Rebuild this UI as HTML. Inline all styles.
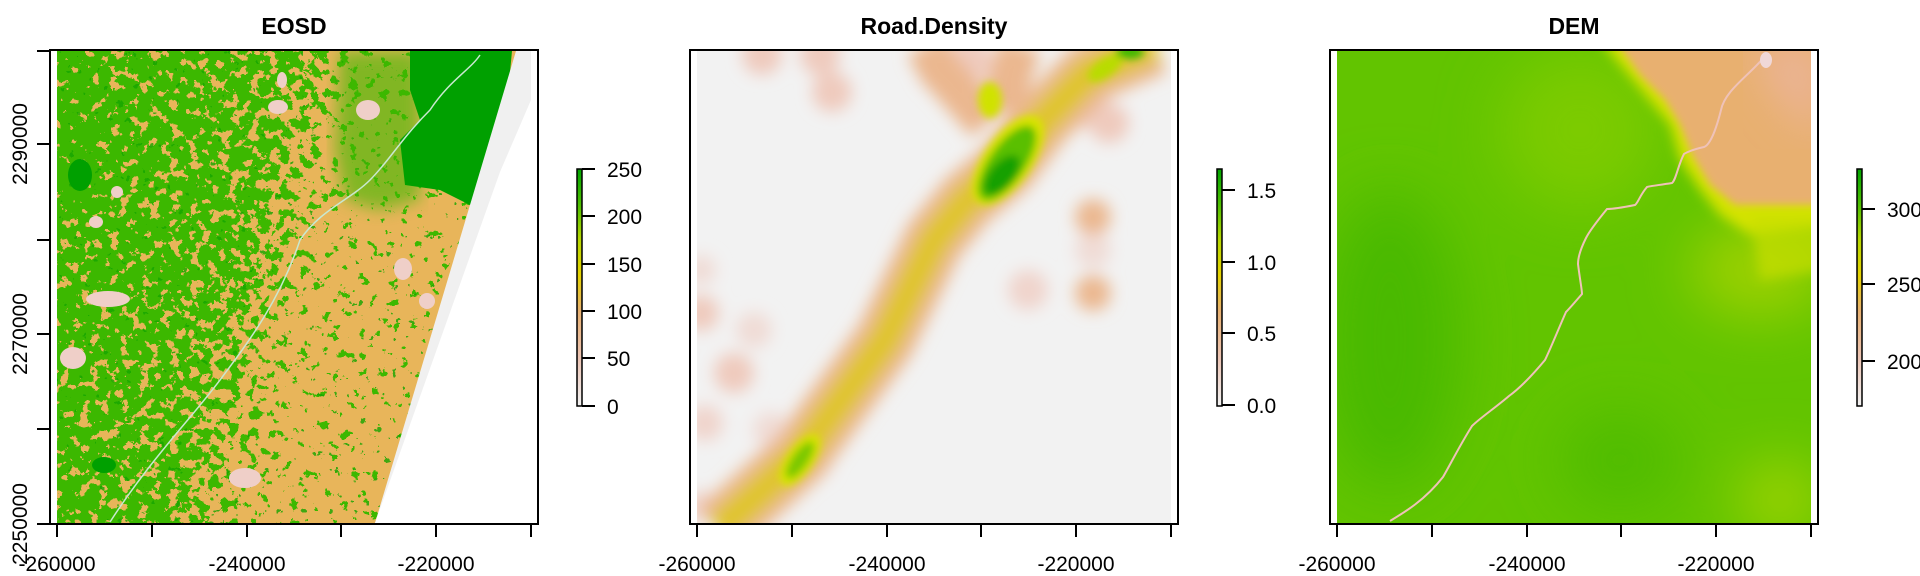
<!DOCTYPE html>
<html><head><meta charset="utf-8"><style>
html,body{margin:0;padding:0;background:#fff;}
svg{display:block;}
text{font-family:"Liberation Sans",Arial,sans-serif;fill:#000;}
.t{font-weight:bold;font-size:23px;text-anchor:middle;}
.l{font-size:21px;}
</style></head><body>
<svg width="1920" height="576" viewBox="0 0 1920 576" xmlns="http://www.w3.org/2000/svg">
<defs>
<clipPath id="cr"><rect x="57" y="51" width="474" height="472"/></clipPath>
<linearGradient id="bias" x1="0" y1="0" x2="1" y2="0.25">
 <stop offset="0" stop-color="#fff" stop-opacity="0.2"/>
 <stop offset="0.45" stop-color="#fff" stop-opacity="0.3"/>
 <stop offset="0.62" stop-color="#fff" stop-opacity="0.55"/>
 <stop offset="1" stop-color="#fff" stop-opacity="0.63"/>
</linearGradient>
<filter id="orng" x="0" y="0" width="1" height="1">
 <feTurbulence type="fractalNoise" baseFrequency="0.1" numOctaves="4" seed="7" result="t"/>
 <feColorMatrix in="t" type="matrix" values="0 0 0 0 0  0 0 0 0 0  0 0 0 0 0  1 0 0 0 0" result="na"/>
 <feComposite in="na" in2="SourceGraphic" operator="arithmetic" k1="0" k2="0.9" k3="0.8" k4="-0.25" result="s"/>
 <feComponentTransfer in="s" result="th"><feFuncA type="discrete" tableValues="0 0 0 0 1 1 1 1"/></feComponentTransfer>
 <feFlood flood-color="#e8b55a" result="f"/>
 <feComposite in="f" in2="th" operator="in"/>
</filter>
<filter id="dk" x="0" y="0" width="1" height="1">
 <feTurbulence type="fractalNoise" baseFrequency="0.12" numOctaves="3" seed="3" result="t"/>
 <feColorMatrix in="t" type="matrix" values="0 0 0 0 0  0 0 0 0 0  0 0 0 0 0  0 1.6 0 0 -0.55" result="a"/>
 <feComponentTransfer in="a" result="th"><feFuncA type="discrete" tableValues="0 0 1"/></feComponentTransfer>
 <feFlood flood-color="#19a600"/>
 <feComposite in2="th" operator="in"/>
</filter>
<filter id="b4"><feGaussianBlur stdDeviation="4"/></filter>
<filter id="b6"><feGaussianBlur stdDeviation="6"/></filter>
<filter id="b8"><feGaussianBlur stdDeviation="8"/></filter>
<filter id="b20"><feGaussianBlur stdDeviation="20"/></filter>
<filter id="b30"><feGaussianBlur stdDeviation="30"/></filter>
<linearGradient id="leg1" x1="0" y1="1" x2="0" y2="0">
 <stop offset="0" stop-color="#f2f2f2"/><stop offset="0.2" stop-color="#ecc4b4"/><stop offset="0.4" stop-color="#e8b070"/>
 <stop offset="0.55" stop-color="#e6d300"/><stop offset="0.7" stop-color="#b8d800"/><stop offset="0.85" stop-color="#4cbf00"/><stop offset="1" stop-color="#00a600"/>
</linearGradient>
</defs>

<!-- ============ EOSD ============ -->
<g>
<text class="t" x="294" y="34">EOSD</text>
<g clip-path="url(#cr)">
 <rect x="57" y="51" width="474" height="472" fill="#3cb800"/>
 <rect x="57" y="51" width="474" height="472" fill="url(#bias)" filter="url(#orng)"/>
 <rect x="57" y="51" width="474" height="472" filter="url(#dk)" opacity="0.8"/>
 <path d="M340 51 L420 51 L420 200 L380 210 L345 200 L335 150 Z" fill="#3cb800" opacity="0.6" filter="url(#b8)"/>
 <path d="M410 51 L512 51 L498 200 L470 205 L440 190 L405 185 L400 140 L420 120 L410 90 Z" fill="#00a000"/>
 <g fill="#efcfc8">
  <ellipse cx="368" cy="110" rx="12" ry="10"/><ellipse cx="278" cy="107" rx="10" ry="7"/>
  <ellipse cx="403" cy="269" rx="9" ry="11"/><ellipse cx="427" cy="301" rx="8" ry="8"/>
  <ellipse cx="108" cy="299" rx="22" ry="8"/><ellipse cx="73" cy="358" rx="13" ry="11"/>
  <ellipse cx="245" cy="478" rx="16" ry="10"/><ellipse cx="117" cy="192" rx="6" ry="6"/>
  <ellipse cx="96" cy="222" rx="7" ry="6"/><ellipse cx="282" cy="80" rx="5" ry="8"/>
 </g>
 <ellipse cx="80" cy="175" rx="12" ry="16" fill="#00a000"/>
 <ellipse cx="104" cy="465" rx="12" ry="8" fill="#00a000"/>
 <path d="M110 522 C150 460 190 420 220 380 C250 340 280 300 300 240 C320 210 350 200 370 180 C390 160 400 140 430 110 C450 80 470 70 480 55" fill="none" stroke="#c8e8d0" stroke-width="1.5"/>
 <path d="M516 51 L531 51 L531 523 L375 523 Z" fill="#f0f0f0"/>
 <path d="M500 172 L531 100 L531 523 L375 523 Z" fill="#ffffff"/>
</g>
<rect x="50" y="50" width="488" height="474" fill="none" stroke="#000" stroke-width="2"/>
<g stroke="#000" stroke-width="2">
 <line x1="57" y1="524" x2="531" y2="524"/>
 <line x1="57" y1="524" x2="57" y2="537"/><line x1="152" y1="524" x2="152" y2="537"/><line x1="247" y1="524" x2="247" y2="537"/>
 <line x1="341" y1="524" x2="341" y2="537"/><line x1="436" y1="524" x2="436" y2="537"/><line x1="531" y1="524" x2="531" y2="537"/>
 <line x1="50" y1="51" x2="50" y2="524"/>
 <line x1="37" y1="51" x2="50" y2="51"/><line x1="37" y1="144" x2="50" y2="144"/><line x1="37" y1="240" x2="50" y2="240"/>
 <line x1="37" y1="334" x2="50" y2="334"/><line x1="37" y1="429" x2="50" y2="429"/><line x1="37" y1="524" x2="50" y2="524"/>
</g>
<g class="l" text-anchor="middle">
 <text x="57" y="571">-260000</text><text x="247" y="571">-240000</text><text x="436" y="571">-220000</text>
 <text transform="translate(27,144) rotate(-90)">2290000</text>
 <text transform="translate(27,334) rotate(-90)">2270000</text>
 <text transform="translate(27,524) rotate(-90)">2250000</text>
</g>
<rect x="577" y="169" width="5" height="237" fill="url(#leg1)" stroke="#000" stroke-width="1.5"/>
<g stroke="#000" stroke-width="2">
 <line x1="582" y1="169" x2="595" y2="169"/><line x1="582" y1="216" x2="595" y2="216"/><line x1="582" y1="264" x2="595" y2="264"/>
 <line x1="582" y1="311" x2="595" y2="311"/><line x1="582" y1="358" x2="595" y2="358"/><line x1="582" y1="406" x2="595" y2="406"/>
</g>
<g class="l"><text x="607" y="177">250</text><text x="607" y="224">200</text><text x="607" y="272">150</text><text x="607" y="319">100</text><text x="607" y="366">50</text><text x="607" y="414">0</text></g>
</g>

<!-- ============ Road.Density ============ -->
<g transform="translate(640,0)">
<text class="t" x="294" y="34">Road.Density</text>
<g clip-path="url(#cr)">
 <rect x="57" y="51" width="474" height="472" fill="#f2f2f2"/>
 <g filter="url(#b8)">
  <g fill="#efcabd">
   <circle cx="192" cy="92" r="20"/><circle cx="122" cy="55" r="20"/><circle cx="180" cy="55" r="20"/>
   <circle cx="388" cy="290" r="20" fill="#f0d4cc"/><circle cx="453" cy="250" r="18" fill="#f0dcd6"/>
   <circle cx="61" cy="313" r="18"/><circle cx="94" cy="373" r="20"/><circle cx="114" cy="330" r="18" fill="#f0dcd6"/>
   <circle cx="65" cy="423" r="18" fill="#f0d4cc"/><circle cx="131" cy="430" r="18" fill="#f0dcd6"/>
   <circle cx="176" cy="463" r="16" fill="#f0dcd6"/><circle cx="61" cy="270" r="15" fill="#f0dcd6"/>
   <circle cx="469" cy="123" r="20"/><circle cx="61" cy="507" r="16" fill="#f0d4cc"/>
   <circle cx="330" cy="60" r="22"/><circle cx="440" cy="100" r="28"/><circle cx="300" cy="70" r="22"/>
  </g>
  <circle cx="453" cy="217" r="18" fill="#ebb78f"/><circle cx="453" cy="293" r="18" fill="#ebb78f"/>
  <path d="M78 530 L159 457 L245 340 L294 240 L327 200 L367 167 L400 123 L449 73 L515 45" fill="none" stroke="#ebb78f" stroke-width="60" stroke-linejoin="round"/>
  <path d="M347 123 L300 70 L286 45 M360 110 L380 45 M420 100 L470 45" fill="none" stroke="#ebb78f" stroke-width="42"/>
  <path d="M78 530 L159 457 L245 340 L294 240 L327 200 L367 167 L400 123 L449 73 L515 45" fill="none" stroke="#e0c42e" stroke-width="32" stroke-linejoin="round"/>
 </g>
 <g filter="url(#b4)">
  <ellipse cx="160" cy="460" rx="13" ry="30" transform="rotate(35 160 460)" fill="#d8e400"/>
  <ellipse cx="160" cy="460" rx="8" ry="22" transform="rotate(35 160 460)" fill="#7cc800"/>
  <ellipse cx="368" cy="160" rx="24" ry="52" transform="rotate(35 368 160)" fill="#d8e400"/>
  <ellipse cx="367" cy="163" rx="18" ry="44" transform="rotate(35 367 163)" fill="#5abf00"/>
  <ellipse cx="362" cy="175" rx="12" ry="24" transform="rotate(40 362 175)" fill="#12a000"/>
  <ellipse cx="350" cy="100" rx="12" ry="18" fill="#d0e200"/>
  <ellipse cx="465" cy="68" rx="20" ry="9" transform="rotate(-35 465 68)" fill="#b8dc00"/>
  <ellipse cx="490" cy="52" rx="14" ry="7" fill="#3cb800"/>
 </g>
</g>
<rect x="50" y="50" width="488" height="474" fill="none" stroke="#000" stroke-width="2"/>
<g stroke="#000" stroke-width="2">
 <line x1="57" y1="524" x2="531" y2="524"/>
 <line x1="57" y1="524" x2="57" y2="537"/><line x1="152" y1="524" x2="152" y2="537"/><line x1="247" y1="524" x2="247" y2="537"/>
 <line x1="341" y1="524" x2="341" y2="537"/><line x1="436" y1="524" x2="436" y2="537"/><line x1="531" y1="524" x2="531" y2="537"/>
</g>
<g class="l" text-anchor="middle"><text x="57" y="571">-260000</text><text x="247" y="571">-240000</text><text x="436" y="571">-220000</text></g>
<rect x="577" y="169" width="5" height="237" fill="url(#leg1)" stroke="#000" stroke-width="1.5"/>
<g stroke="#000" stroke-width="2">
 <line x1="582" y1="190" x2="595" y2="190"/><line x1="582" y1="262" x2="595" y2="262"/><line x1="582" y1="333" x2="595" y2="333"/><line x1="582" y1="405" x2="595" y2="405"/>
</g>
<g class="l"><text x="607" y="198">1.5</text><text x="607" y="270">1.0</text><text x="607" y="341">0.5</text><text x="607" y="413">0.0</text></g>
</g>

<!-- ============ DEM ============ -->
<g transform="translate(1280,0)">
<text class="t" x="294" y="34">DEM</text>
<g clip-path="url(#cr)">
 <rect x="57" y="51" width="474" height="472" fill="#62c400"/>
 <g filter="url(#b30)">
  <ellipse cx="110" cy="340" rx="70" ry="150" fill="#48b900"/>
  <ellipse cx="340" cy="460" rx="60" ry="50" fill="#4fbc00"/>
  <ellipse cx="300" cy="130" rx="80" ry="80" fill="#7ccb00"/>
  <ellipse cx="500" cy="500" rx="40" ry="35" fill="#a8d600"/>
  <ellipse cx="480" cy="270" rx="70" ry="45" fill="#a0d200"/>
 </g>
 <g filter="url(#b6)">
  <path d="M320 40 L545 40 L545 225 L470 235 L440 215 L420 190 L400 160 L390 125 L365 95 Z" fill="#d4e300"/>
  <path d="M470 215 L545 215 L545 270 L480 280 Z" fill="#c8de00" opacity="0.7"/>
 </g>
 <g filter="url(#b4)">
  <path d="M335 40 L545 40 L545 205 L455 205 L430 185 L412 155 L400 125 L385 100 L360 75 Z" fill="#e8b070"/>
 </g>
 <path d="M470 45 L540 45 L540 140 L500 100 Z" fill="#ebb497" filter="url(#b20)"/>
 <path d="M486 55 C470 75 445 90 441 110 C436 130 430 145 424 147 C410 150 404 154 404 154 C398 165 396 180 392 183 C380 185 370 186 367 187 C360 195 358 203 355 205 C340 208 330 209 327 209 C318 220 310 230 306 238 C300 250 298 258 298 264 C300 280 302 290 302 294 C295 302 290 308 286 312 C278 330 270 350 265 360 C250 378 240 388 229 396 C215 408 200 418 192 426 C180 445 170 465 163 477 C145 500 125 512 110 521" fill="none" stroke="#efc2b8" stroke-width="2"/>
 <ellipse cx="486" cy="60" rx="6" ry="8" fill="#f0d8d8"/>
</g>
<rect x="50" y="50" width="488" height="474" fill="none" stroke="#000" stroke-width="2"/>
<g stroke="#000" stroke-width="2">
 <line x1="57" y1="524" x2="531" y2="524"/>
 <line x1="57" y1="524" x2="57" y2="537"/><line x1="152" y1="524" x2="152" y2="537"/><line x1="247" y1="524" x2="247" y2="537"/>
 <line x1="341" y1="524" x2="341" y2="537"/><line x1="436" y1="524" x2="436" y2="537"/><line x1="531" y1="524" x2="531" y2="537"/>
</g>
<g class="l" text-anchor="middle"><text x="57" y="571">-260000</text><text x="247" y="571">-240000</text><text x="436" y="571">-220000</text></g>
<rect x="577" y="169" width="5" height="237" fill="url(#leg1)" stroke="#000" stroke-width="1.5"/>
<g stroke="#000" stroke-width="2">
 <line x1="582" y1="209" x2="595" y2="209"/><line x1="582" y1="284" x2="595" y2="284"/><line x1="582" y1="361" x2="595" y2="361"/>
</g>
<g class="l"><text x="607" y="217">300</text><text x="607" y="292">250</text><text x="607" y="369">200</text></g>
</g>
</svg>
</body></html>
